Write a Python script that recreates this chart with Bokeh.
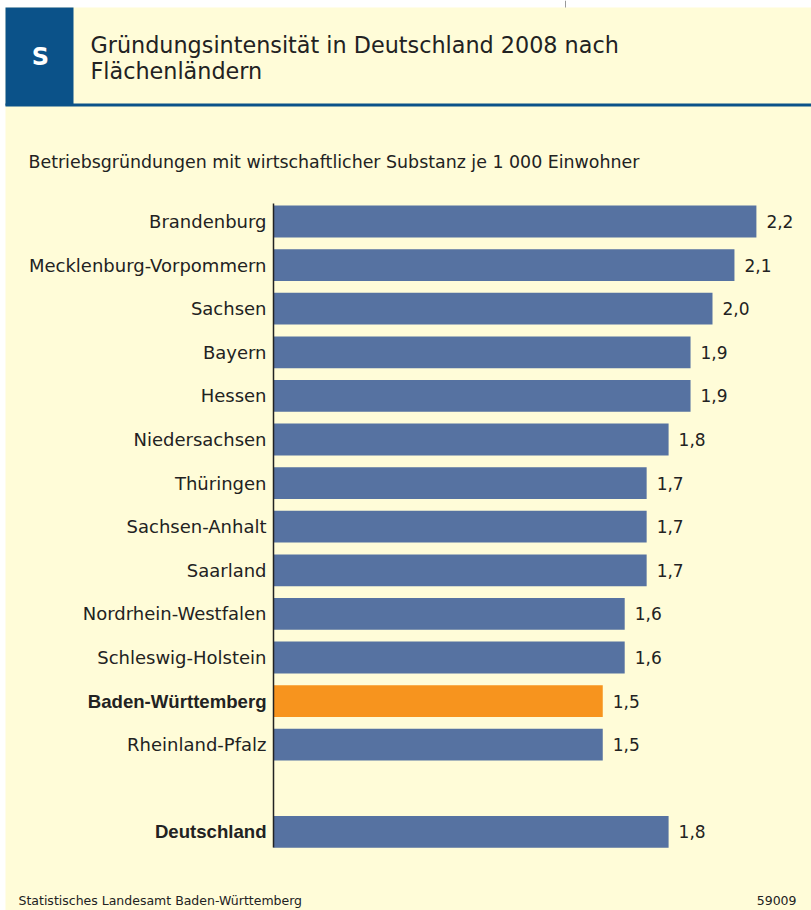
from bokeh.plotting import figure
from bokeh.models import Range1d, ColumnDataSource
from bokeh.core.properties import value
from bokeh.embed import file_html
from bokeh.resources import INLINE

# ---- data ----
states = ["Brandenburg", "Mecklenburg-Vorpommern", "Sachsen", "Bayern", "Hessen",
          "Niedersachsen", "Thüringen", "Sachsen-Anhalt", "Saarland",
          "Nordrhein-Westfalen", "Schleswig-Holstein", "Baden-Württemberg",
          "Rheinland-Pfalz", "Deutschland"]
values = [2.2, 2.1, 2.0, 1.9, 1.9, 1.8, 1.7, 1.7, 1.7, 1.6, 1.6, 1.5, 1.5, 1.8]
highlight = "Baden-Württemberg"
bold_labels = ["Baden-Württemberg", "Deutschland"]

title_lines = ["Gründungsintensität in Deutschland 2008 nach", "Flächenländern"]
subtitle = "Betriebsgründungen mit wirtschaftlicher Substanz je 1 000 Einwohner"
source_note = "Statistisches Landesamt Baden-Württemberg"
chart_no = "59009"

# ---- layout ----
W, H = 811, 910
X0, SX = 273.0, 219.5      # pixel of value 0, pixels per unit
Y0, SY = 221.0, 43.6       # pixel of first row centre, pixels per row

def px(x):
    return (x - X0) / SX

def py(y):
    return (y - Y0) / SY

FONT = "DejaVu Sans"
BOLD_FONT = "Liberation Sans"
BLUE = "#5672A1"
ORANGE = "#F7941E"
HEAD_BLUE = "#0B5289"
BG = "#FFFCD8"
TXT = "#222222"

rows = [i for i in range(len(states) - 1)] + [len(states)]  # gap before Deutschland
colors = [ORANGE if s == highlight else BLUE for s in states]
styles = ["bold" if s in bold_labels else "normal" for s in states]
fonts = [BOLD_FONT if s in bold_labels else FONT for s in states]
sizes = ["18.6px" if s in bold_labels else "18px" for s in states]
vlabels = [f"{v:.1f}".replace(".", ",") for v in values]

src = ColumnDataSource(dict(y=rows, v=values, name=states, color=colors,
                            style=styles, font=fonts, size=sizes, vl=vlabels))

p = figure(width=W, height=H, output_backend="svg", toolbar_location=None,
           x_range=Range1d(px(0), px(W)), y_range=Range1d(py(H), py(0)),
           x_axis_type=None, y_axis_type=None, min_border=0,
           outline_line_color=None, background_fill_color="white",
           border_fill_color="white")
p.grid.visible = False

# background panel & header
p.quad(left=px(5), right=px(W + 2), top=py(7), bottom=py(H + 2), color=BG, line_color=None)
p.quad(left=px(5), right=px(73), top=py(7), bottom=py(105), color=HEAD_BLUE, line_color=None)
p.quad(left=px(5), right=px(W + 2), top=py(103), bottom=py(106), color=HEAD_BLUE, line_color=None)
p.segment(x0=px(565), x1=px(565), y0=py(0), y1=py(7), line_color="#999999", line_width=1)

p.text(x=[px(40)], y=[py(56)], text=["S"], text_color="white", text_font=value(FONT),
       text_font_size="24px", text_font_style="bold", text_align="center",
       text_baseline="middle")
p.text(x=[px(90), px(90)], y=[py(44), py(70)], text=title_lines, text_color=TXT,
       text_font=value(FONT), text_font_size="22.3px", text_baseline="middle")
p.text(x=[px(28)], y=[py(161)], text=[subtitle], text_color=TXT,
       text_font=value(FONT), text_font_size="17.4px", text_baseline="middle")

# bars
p.hbar(y="y", left=0, right="v", height=0.73, color="color", line_color=None, source=src)
p.segment(x0=0, x1=0, y0=py(203), y1=py(847), line_color=TXT, line_width=1.5)

p.text(x=0, y="y", text="name", x_offset=-7, text_align="right", text_baseline="middle",
       text_font="font", text_font_size="size", text_font_style="style",
       text_color=TXT, source=src)
p.text(x="v", y="y", text="vl", x_offset=10, text_align="left", text_baseline="middle",
       text_font=value(FONT), text_font_size="17px", text_color=TXT, source=src)

# footer
p.text(x=[px(18)], y=[py(900)], text=[source_note], text_font=value(FONT),
       text_font_size="12.5px", text_color=TXT, text_baseline="middle")
p.text(x=[px(796)], y=[py(900)], text=[chart_no], text_font=value(FONT),
       text_font_size="12.5px", text_color=TXT, text_baseline="middle",
       text_align="right")

open("out.html", "w").write(file_html(p, INLINE))
